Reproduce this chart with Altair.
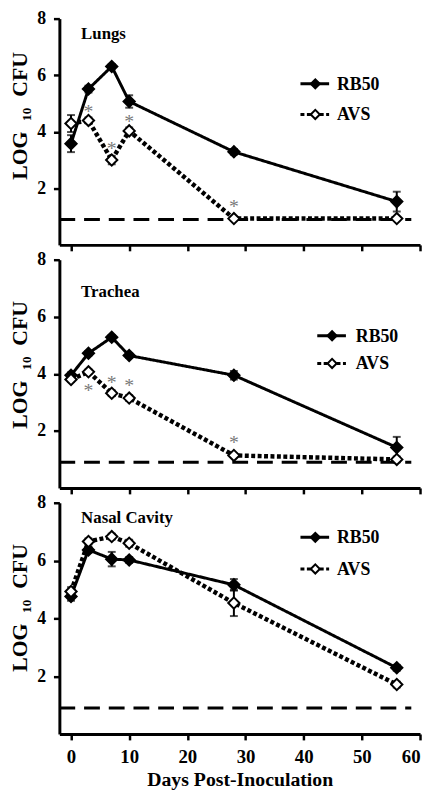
import altair as alt
import pandas as pd

# ---------------- data ----------------
days = [0, 3, 7, 10, 28, 56]
series_names = ["RB50", "AVS"]

lungs_rb50 = [3.58, 5.51, 6.31, 5.07, 3.29, 1.53]
lungs_rb50_err = [0.30, 0.12, 0.08, 0.22, 0.10, 0.35]
lungs_avs = [4.29, 4.40, 3.00, 4.03, 0.93, 0.93]
lungs_avs_err = [0.30, 0.10, 0.15, 0.12, 0.05, 0.05]
lungs_star_days = [3, 7, 10, 28]
lungs_star_y = [4.83, 3.52, 4.48, 1.48]

trachea_rb50 = [3.95, 4.72, 5.28, 4.64, 3.95, 1.42]
trachea_rb50_err = [0.10, 0.08, 0.08, 0.08, 0.15, 0.37]
trachea_avs = [3.80, 4.07, 3.32, 3.15, 1.14, 1.00]
trachea_avs_err = [0.08, 0.08, 0.10, 0.10, 0.06, 0.10]
trachea_star_days = [3, 7, 10, 28]
trachea_star_y = [3.52, 3.83, 3.72, 1.72]

nasal_rb50 = [4.76, 6.37, 6.05, 6.02, 5.16, 2.29]
nasal_rb50_err = [0.15, 0.10, 0.25, 0.10, 0.20, 0.10]
nasal_avs = [4.93, 6.66, 6.83, 6.60, 4.53, 1.71]
nasal_avs_err = [0.15, 0.10, 0.10, 0.12, 0.45, 0.10]
nasal_star_days = []
nasal_star_y = []

detection_limit = [0.9, 0.9, 0.9]
limit_extent = [-2, 58.5]
panel_titles = ["Lungs", "Trachea", "Nasal Cavity"]
x_ticks = [0, 10, 20, 30, 40, 50, 60]
y_ticks = [2, 4, 6, 8]
x_domain = [-2, 60]
y_domain = [0, 8]

FONT = "Liberation Serif"
W = 365

dash_scale = alt.Scale(domain=series_names, range=[[1, 0], [4, 2.5]])
size_scale = alt.Scale(domain=series_names, range=[3, 4.5])
fill_scale = alt.Scale(domain=series_names, range=["black", "white"])


def legend_layers(lx, ly, gap, loff):
    out = []
    for i, name in enumerate(series_names):
        d = alt.Chart(pd.DataFrame({"series": [name]}))
        yv = ly + i * gap
        out.append(d.mark_rule(color="black", strokeCap="butt", strokeWidth=3).encode(
            x=alt.value(lx), x2=alt.value(lx + 29), y=alt.value(yv),
            strokeDash=alt.StrokeDash("series:N", scale=dash_scale, legend=None),
        ))
        out.append(d.mark_point(
            shape="diamond", size=85, filled=True, stroke="black", strokeWidth=2, opacity=1
        ).encode(
            x=alt.value(lx + 15), y=alt.value(yv),
            fill=alt.Fill("series:N", scale=fill_scale, legend=None),
        ))
        out.append(d.mark_text(
            align="left", baseline="middle", font=FONT, fontSize=18, fontWeight="bold",
            color="black",
        ).encode(x=alt.value(lx + 29 + loff), y=alt.value(yv + 1), text="series:N"))
    return out


def panel(title, rb, rbe, av, ave, sdays, sy, limit, lx, ly, gap, loff, bottom, toff,
          height, ytitle_y):
    rows = []
    for s, vals, errs in (("RB50", rb, rbe), ("AVS", av, ave)):
        for d, v, e in zip(days, vals, errs):
            rows.append({"day": d, "value": v, "lo": v - e, "hi": v + e, "series": s})
    df = pd.DataFrame(rows)
    caps = pd.concat([
        df[["day", "series"]].assign(cap=df["lo"]),
        df[["day", "series"]].assign(cap=df["hi"]),
    ])
    limit_df = pd.DataFrame({"x": [limit_extent[0]], "x2": [limit_extent[1]], "y": [limit]})
    stars = pd.DataFrame({"day": sdays, "y": sy})

    xaxis = alt.Axis(
        values=x_ticks, labels=bottom, title="Days Post-Inoculation" if bottom else None,
        grid=False, domainColor="black", domainWidth=3, tickColor="black", tickWidth=2.5,
        tickSize=6, labelFont=FONT, labelFontWeight="bold", labelFontSize=19,
        labelColor="black", labelPadding=8, labelFlush=True,
        titleFont=FONT, titleFontWeight="bold", titleFontSize=20, titleColor="black",
        titlePadding=3,
    )
    yaxis = alt.Axis(
        values=y_ticks, title="LOG\u2002\u2081\u2080\u2002CFU", grid=False,
        domainColor="black", domainWidth=3, tickColor="black", tickWidth=2.5, tickSize=6,
        labelFont=FONT, labelFontWeight="bold", labelFontSize=18, labelColor="black",
        labelPadding=8, titleFont=FONT, titleFontWeight="bold", titleFontSize=22,
        titleColor="black", titlePadding=5, titleY=ytitle_y,
    )
    xs = alt.Scale(domain=x_domain, nice=False, zero=False)
    ys = alt.Scale(domain=y_domain, nice=False)
    x = alt.X("day:Q", scale=xs, axis=xaxis)
    y = alt.Y("value:Q", scale=ys, axis=yaxis)

    base = alt.Chart(df)

    limit_layer = alt.Chart(limit_df).mark_rule(
        color="black", strokeWidth=3, strokeDash=[16, 9]
    ).encode(
        x=alt.X("x:Q", scale=xs, axis=xaxis),
        x2="x2:Q",
        y=alt.Y("y:Q", scale=ys, axis=yaxis),
    )

    lines = base.mark_line(color="black", strokeCap="butt").encode(
        x=x, y=y,
        strokeDash=alt.StrokeDash("series:N", scale=dash_scale, legend=None),
        size=alt.Size("series:N", scale=size_scale, legend=None),
        order="day:Q",
    )

    err = base.mark_rule(color="black", strokeWidth=2).encode(
        x="day:Q", y="lo:Q", y2="hi:Q"
    )
    cap_layer = alt.Chart(caps).mark_tick(
        color="black", orient="horizontal", size=8, thickness=2
    ).encode(x="day:Q", y="cap:Q")

    points = base.mark_point(
        shape="diamond", size=130, filled=True, stroke="black", strokeWidth=2, opacity=1
    ).encode(
        x=x, y=y,
        fill=alt.Fill("series:N", scale=fill_scale, legend=None),
    )

    layers = [limit_layer, lines, err, cap_layer, points]
    if len(sdays):
        star_layer = alt.Chart(stars).mark_text(
            text="*", font=FONT, fontSize=20, color="#7a7a7a", baseline="middle", dy=4
        ).encode(x="day:Q", y="y:Q")
        layers.append(star_layer)
    layers += legend_layers(lx, ly, gap, loff)

    return alt.layer(*layers).properties(
        width=W, height=height,
        title=alt.TitleParams(
            title, anchor="start", frame="group", orient="top", font=FONT,
            fontSize=17, fontWeight="bold", color="black",
            offset=toff, dx=22,
        ),
    )


p1 = panel(panel_titles[0], lungs_rb50, lungs_rb50_err, lungs_avs, lungs_avs_err,
           lungs_star_days, lungs_star_y, detection_limit[0], 244, 66, 31, 8, False, -34,
           229, 98)
p2 = panel(panel_titles[1], trachea_rb50, trachea_rb50_err, trachea_avs, trachea_avs_err,
           trachea_star_days, trachea_star_y, detection_limit[1], 261, 77, 28, 10, False, -51,
           231, 106)
p3 = panel(panel_titles[2], nasal_rb50, nasal_rb50_err, nasal_avs, nasal_avs_err,
           nasal_star_days, nasal_star_y, detection_limit[2], 244, 35, 32, 8, True, -33,
           234, 106)

chart = alt.vconcat(p1, p2, p3, spacing=15, bounds="flush").resolve_scale(
    x="independent", y="independent", strokeDash="independent", fill="independent",
    size="independent",
).properties(
    padding={"left": 1, "top": -3, "right": 0, "bottom": 0}
).configure_view(stroke=None)

chart.save("out.html", embed_options={"renderer": "svg", "actions": False})
